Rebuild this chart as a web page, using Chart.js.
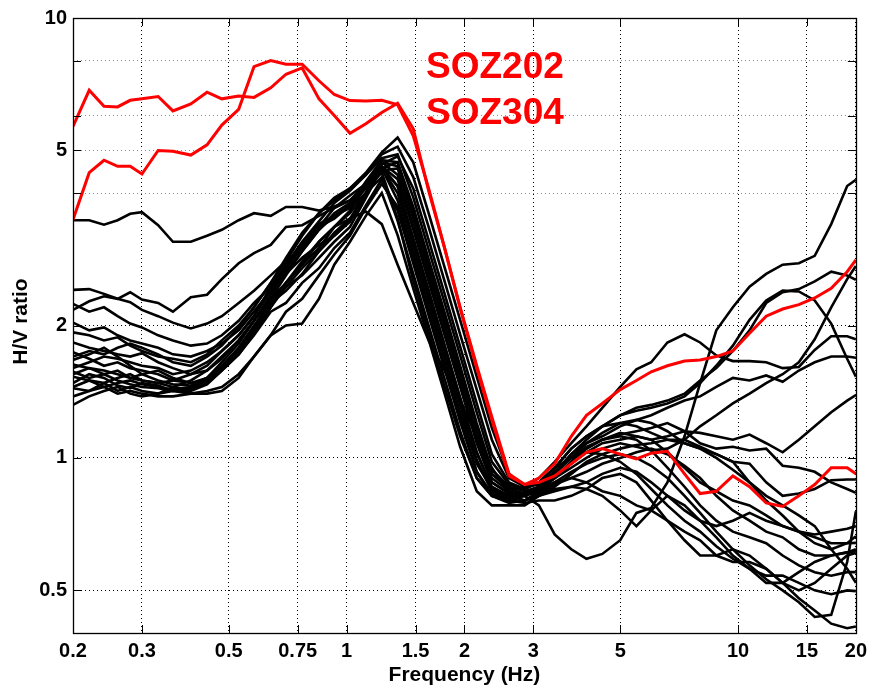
<!DOCTYPE html>
<html>
<head>
<meta charset="utf-8">
<title>H/V ratio</title>
<script src="https://cdn.jsdelivr.net/npm/chart.js@4.4.1/dist/chart.umd.min.js"></script>
<style>
  html, body { margin: 0; padding: 0; background: #fff; }
  #hv { display: block; }
</style>
</head>
<body>
<canvas id="hv" width="873" height="689"></canvas>
<script>
// frequency grid shared by every curve (Hz)
const freqHz = [
  0.2, 0.22, 0.24, 0.26, 0.28, 0.3, 0.33, 0.36, 0.4, 0.44, 0.48, 0.53, 0.58,
  0.64, 0.7, 0.77, 0.85, 0.93, 1.02,
  1.12, 1.23, 1.35, 1.48, 1.62, 1.78, 1.95, 2.15, 2.35, 2.6, 2.85,
  3.1, 3.4, 3.75, 4.1, 4.5, 5.0, 5.5, 6.0, 6.6, 7.3, 8.0, 8.8, 9.7, 10.7, 11.8, 13, 14.3, 15.7, 17.3, 19, 20
];

const xTicks = [0.2, 0.3, 0.5, 0.75, 1, 1.5, 2, 3, 5, 10, 15, 20];
const yTicks = [0.5, 1, 2, 4, 5, 6, 8, 10];
const yLabelled = [0.5, 1, 2, 5, 10];

const highlightNames = ['SOZ202', 'SOZ304'];

// highlighted stations (red)
const soz202 = [
  5.67, 6.85, 6.3, 6.28, 6.5, 6.55, 6.63, 6.15, 6.38, 6.78, 6.55, 6.65, 6.6,
  6.94, 7.45, 7.7, 6.55, 6.0, 5.47,
  5.75, 6.1, 6.4, 5.6, 4.05, 3.0, 2.19, 1.6, 1.22, 0.91, 0.87,
  0.88, 0.91, 0.97, 1.03, 1.05, 1.02, 0.995, 1.025, 1.035, 0.92, 0.83, 0.84, 0.91, 0.86, 0.79, 0.776, 0.82, 0.87, 0.95, 0.95, 0.92
];
const soz304 = [
  3.48, 4.45, 4.75, 4.6, 4.6, 4.42, 5.0, 4.98, 4.88, 5.15, 5.71, 6.2, 7.75,
  8.0, 7.85, 7.85, 7.2, 6.7, 6.49,
  6.48, 6.5, 6.35, 5.4, 4.1, 3.0, 2.2, 1.62, 1.24, 0.92, 0.87,
  0.9, 0.97, 1.12, 1.25, 1.33, 1.43, 1.5, 1.57, 1.62, 1.66, 1.67, 1.7, 1.75, 1.92, 2.1, 2.18, 2.23, 2.31, 2.43, 2.65, 2.82
];

// other stations (black)
const site01 = [
  3.47, 3.47, 3.39, 3.47, 3.59, 3.62, 3.38, 3.1, 3.1, 3.2, 3.3, 3.47, 3.6,
  3.55, 3.72, 3.72, 3.65, 3.73, 3.85,
  4.1, 4.45, 3.5, 2.53, 1.93, 1.45, 1.12, 0.9, 0.82, 0.8, 0.82,
  0.78, 0.67, 0.62, 0.59, 0.605, 0.65, 0.75, 0.77, 0.88, 1.12, 1.48, 1.95, 2.2, 2.45, 2.62, 2.75, 2.77, 2.88, 3.4, 4.15, 4.29
];
const site02 = [
  2.17, 2.27, 2.33, 2.3, 2.38, 2.29, 2.25, 2.15, 2.32, 2.35, 2.55, 2.77, 2.92,
  3.05, 3.35, 3.38, 3.55, 3.7, 3.85,
  4.2, 4.55, 3.85, 2.92, 2.23, 1.68, 1.27, 0.97, 0.85, 0.82, 0.83,
  0.86, 0.9, 0.95, 1.0, 1.05, 1.08, 1.06, 1.04, 1.05, 1.1, 1.18, 1.25, 1.33, 1.4, 1.48, 1.55, 1.65, 1.86, 2.2, 2.55, 2.73
];
const site03 = [
  2.41, 2.42, 2.36, 2.3, 2.26, 2.17, 2.1, 2.03, 1.97, 2.02, 2.1, 2.25, 2.4,
  2.6, 2.8, 3.0, 3.35, 3.7, 3.95,
  4.2, 4.6, 4.3, 3.31, 2.52, 1.9, 1.45, 1.08, 0.88, 0.83, 0.83,
  0.85, 0.92, 1.02, 1.1, 1.18, 1.25, 1.3, 1.32, 1.35, 1.4, 1.5, 1.6, 1.75, 1.95, 2.25, 2.38, 2.42, 2.52, 2.65, 2.6, 2.54
];
const site04 = [
  2.24, 2.15, 2.2, 2.1, 2.02, 1.98, 1.9, 1.85, 1.8, 1.82, 1.9, 2.05, 2.25,
  2.45, 2.62, 2.85, 3.05, 3.2, 3.45,
  4.0, 4.7, 4.6, 3.6, 2.74, 2.07, 1.57, 1.17, 0.92, 0.85, 0.86,
  0.9, 0.98, 1.08, 1.18, 1.3, 1.45, 1.59, 1.65, 1.83, 1.91, 1.83, 1.71, 1.66, 1.66, 1.65, 1.6, 1.61, 1.76, 1.89, 1.89, 1.86
];
const site05 = [
  2.03, 1.95, 1.98, 1.9, 1.85, 1.82, 1.78, 1.72, 1.7, 1.75, 1.82, 1.95, 2.15,
  2.4, 2.7, 3.05, 3.4, 3.55, 3.75,
  4.1, 4.6, 4.15, 3.15, 2.4, 1.8, 1.37, 1.03, 0.86, 0.82, 0.82,
  0.86, 0.93, 1.02, 1.08, 1.12, 1.18, 1.22, 1.25, 1.3, 1.35, 1.38, 1.45, 1.52, 1.5, 1.54, 1.49, 1.58, 1.65, 1.7, 1.7, 1.69
];
const site06 = [
  1.93, 1.9, 1.85, 1.88, 1.8, 1.75, 1.7, 1.68, 1.65, 1.72, 1.85, 2.0, 2.2,
  2.5, 2.8, 3.2, 3.6, 3.9, 4.1,
  4.4, 4.8, 4.9, 3.91, 2.98, 2.25, 1.71, 1.27, 0.98, 0.87, 0.85,
  0.88, 0.95, 1.05, 1.12, 1.18, 1.25, 1.28, 1.3, 1.33, 1.38, 1.48, 1.62, 1.8, 2.06, 2.28, 2.4, 2.39, 2.28, 2.02, 1.68, 1.53
];
const site07 = [
  1.83, 1.78, 1.75, 1.72, 1.7, 1.73, 1.65, 1.6, 1.55, 1.58, 1.68, 1.85, 2.05,
  2.3, 2.45, 2.6, 2.85, 3.1, 3.35,
  3.9, 4.55, 4.0, 3.03, 2.31, 1.74, 1.32, 0.99, 0.84, 0.81, 0.82,
  0.85, 0.92, 1.0, 1.06, 1.1, 1.14, 1.12, 1.1, 1.12, 1.15, 1.14, 1.12, 1.1, 1.13, 1.08, 1.03, 1.1, 1.18, 1.27, 1.35, 1.39
];
const site08 = [
  1.74, 1.68, 1.62, 1.65, 1.6, 1.58, 1.55, 1.5, 1.48, 1.52, 1.62, 1.78, 1.98,
  2.3, 2.6, 2.95, 3.3, 3.55, 3.7,
  4.0, 4.35, 3.46, 2.62, 2.0, 1.51, 1.15, 0.9, 0.82, 0.79, 0.8,
  0.84, 0.9, 0.98, 1.05, 1.1, 1.13, 1.15, 1.17, 1.2, 1.15, 1.08, 1.05, 1.06, 1.04, 1.05, 0.96, 0.95, 0.93, 0.88, 0.85, 0.833
];
const site09 = [
  1.67, 1.72, 1.78, 1.7, 1.62, 1.55, 1.5, 1.47, 1.46, 1.52, 1.6, 1.72, 1.9,
  2.15, 2.25, 2.5, 2.7, 3.0, 3.25,
  3.75, 4.3, 3.65, 2.77, 2.11, 1.59, 1.21, 0.93, 0.83, 0.8, 0.8,
  0.82, 0.86, 0.92, 0.98, 1.02, 1.05, 1.07, 1.08, 1.1, 1.1, 1.06, 1.02, 0.98, 0.97, 0.88, 0.82, 0.83, 0.85, 0.89, 0.893, 0.893
];
const site10 = [
  1.63, 1.6, 1.55, 1.58, 1.52, 1.5, 1.48, 1.45, 1.43, 1.48, 1.58, 1.72, 1.92,
  2.2, 2.5, 2.75, 3.1, 3.35, 3.6,
  4.0, 4.5, 4.55, 3.5, 2.65, 2.0, 1.52, 1.13, 0.9, 0.84, 0.82,
  0.84, 0.88, 0.93, 0.97, 1.0, 1.02, 1.0, 0.96, 0.9, 0.82, 0.75, 0.68, 0.62, 0.57, 0.53, 0.5, 0.47, 0.435, 0.44, 0.58, 0.757
];
const site11 = [
  1.57, 1.52, 1.55, 1.5, 1.47, 1.45, 1.44, 1.42, 1.44, 1.5, 1.6, 1.75, 1.95,
  2.25, 2.4, 2.62, 2.95, 3.25, 3.5,
  4.0, 4.55, 4.7, 3.72, 2.83, 2.14, 1.62, 1.2, 0.94, 0.86, 0.84,
  0.86, 0.9, 0.97, 1.03, 1.08, 1.1, 1.12, 1.1, 1.03, 0.95, 0.88, 0.84, 0.8, 0.78, 0.74, 0.7, 0.68, 0.64, 0.62, 0.64, 0.664
];
const site12 = [
  1.53, 1.5, 1.45, 1.48, 1.5, 1.47, 1.45, 1.43, 1.45, 1.52, 1.65, 1.82, 2.05,
  2.35, 2.65, 2.95, 3.3, 3.6, 3.8,
  4.2, 4.7, 4.4, 3.37, 2.56, 1.93, 1.47, 1.1, 0.88, 0.83, 0.82,
  0.85, 0.88, 0.9, 0.93, 0.97, 1.0, 1.03, 1.05, 1.02, 0.96, 0.9, 0.82, 0.76, 0.72, 0.68, 0.66, 0.62, 0.6, 0.6, 0.61, 0.614
];
const site13 = [
  1.48, 1.55, 1.52, 1.46, 1.44, 1.48, 1.46, 1.42, 1.42, 1.47, 1.58, 1.72, 1.92,
  2.2, 2.45, 2.7, 2.95, 3.2, 3.45,
  3.95, 4.65, 4.85, 4.1, 3.13, 2.36, 1.79, 1.33, 1.02, 0.88, 0.85,
  0.88, 0.95, 1.0, 1.03, 1.02, 0.98, 0.92, 0.85, 0.78, 0.72, 0.68, 0.63, 0.59, 0.56, 0.54, 0.54, 0.52, 0.5, 0.49, 0.5, 0.498
];
const site14 = [
  1.44, 1.42, 1.45, 1.4, 1.42, 1.4, 1.38, 1.38, 1.4, 1.42, 1.45, 1.55, 1.7,
  1.9, 2.15, 2.3, 2.6, 2.9, 3.2,
  3.7, 4.2, 3.72, 2.82, 2.15, 1.62, 1.23, 0.93, 0.82, 0.8, 0.8,
  0.83, 0.87, 0.9, 0.88, 0.84, 0.82, 0.78, 0.76, 0.72, 0.68, 0.65, 0.6, 0.58, 0.58, 0.56, 0.52, 0.48, 0.45, 0.42, 0.41, 0.414
];
const site15 = [
  1.38, 1.42, 1.48, 1.52, 1.55, 1.5, 1.48, 1.5, 1.55, 1.62, 1.75, 1.9, 2.1,
  2.4, 2.7, 3.0, 3.35, 3.5, 3.75,
  4.25, 4.75, 4.7, 3.6, 2.74, 2.07, 1.57, 1.17, 0.92, 0.85, 0.83,
  0.85, 0.9, 0.98, 1.05, 1.1, 1.12, 1.1, 1.04, 0.95, 0.86, 0.78, 0.72, 0.68, 0.66, 0.64, 0.6, 0.57, 0.55, 0.54, 0.55, 0.55
];
const site16 = [
  1.32, 1.38, 1.42, 1.45, 1.4, 1.38, 1.4, 1.42, 1.4, 1.4, 1.42, 1.52, 1.7,
  1.9, 2.0, 2.02, 2.3, 2.75, 3.1,
  3.55, 4.0, 3.21, 2.43, 1.86, 1.4, 1.06, 0.84, 0.78, 0.78, 0.78,
  0.82, 0.85, 0.86, 0.85, 0.82, 0.76, 0.7, 0.76, 0.82, 0.78, 0.72, 0.66, 0.6, 0.56, 0.52, 0.52, 0.55, 0.58, 0.6, 0.61, 0.62
];
const site17 = [
  1.55, 1.6, 1.58, 1.55, 1.52, 1.55, 1.58, 1.52, 1.48, 1.5, 1.6, 1.78, 2.0,
  2.25, 2.5, 2.75, 3.0, 3.35, 3.5,
  3.63, 3.4, 2.75, 2.25, 1.85, 1.58, 1.35, 1.12, 0.95, 0.83, 0.8,
  0.82, 0.84, 0.86, 0.88, 0.92, 0.95, 0.93, 0.88, 0.82, 0.76, 0.72, 0.7, 0.72, 0.75, 0.72, 0.7, 0.68, 0.67, 0.68, 0.69, 0.7
];
const site18 = [
  1.6, 1.65, 1.7, 1.68, 1.65, 1.62, 1.6, 1.55, 1.58, 1.65, 1.75, 1.9, 2.1,
  2.45, 2.75, 3.1, 3.45, 3.8, 4.05,
  4.4, 4.9, 5.1, 4.35, 3.35, 2.52, 1.91, 1.43, 1.1, 0.9, 0.86,
  0.87, 0.93, 1.0, 1.08, 1.14, 1.2, 1.18, 1.14, 1.1, 1.08, 1.05, 1.02, 0.98, 0.88, 0.8, 0.74, 0.68, 0.66, 0.64, 0.64, 0.641
];
const site19 = [
  1.7, 1.75, 1.72, 1.78, 1.82, 1.78, 1.72, 1.65, 1.62, 1.7, 1.8, 1.98, 2.2,
  2.5, 2.85, 3.25, 3.6, 3.85, 4.1,
  4.45, 4.95, 5.35, 4.7, 3.6, 2.71, 2.06, 1.53, 1.17, 0.92, 0.86,
  0.88, 0.95, 1.05, 1.12, 1.18, 1.2, 1.22, 1.2, 1.15, 1.08, 1.05, 1.0, 0.94, 0.88, 0.82, 0.78, 0.74, 0.7, 0.62, 0.56, 0.52
];
const site20 = [
  1.45, 1.5, 1.48, 1.42, 1.45, 1.42, 1.4, 1.45, 1.5, 1.58, 1.7, 1.85, 2.05,
  2.3, 2.5, 2.8, 3.1, 3.35, 3.65,
  4.15, 4.55, 4.15, 3.15, 2.4, 1.8, 1.37, 1.03, 0.85, 0.8, 0.79,
  0.8, 0.8, 0.82, 0.85, 0.9, 0.92, 0.88, 0.8, 0.72, 0.65, 0.6, 0.6, 0.62, 0.6, 0.56, 0.52, 0.5, 0.52, 0.56, 0.6, 0.608
];

const highlightCurves = [soz202, soz304];
const otherCurves = [site01, site02, site03, site04, site05, site06, site07, site08, site09, site10,
                     site11, site12, site13, site14, site15, site16, site17, site18, site19, site20];

const FONT = "'Liberation Sans', Arial, Helvetica, sans-serif";

function toPoints(vals) {
  return vals.map((v, i) => ({ x: freqHz[i], y: v }));
}

const datasets = [];
highlightCurves.forEach((vals, i) => {
  datasets.push({
    label: highlightNames[i],
    data: toPoints(vals),
    borderColor: '#ff0000',
    borderWidth: 3,
    pointRadius: 0,
    tension: 0,
    fill: false
  });
});
otherCurves.forEach((vals, i) => {
  datasets.push({
    label: 'site' + (i + 1),
    data: toPoints(vals),
    borderColor: '#000000',
    borderWidth: 2.6,
    pointRadius: 0,
    tension: 0,
    fill: false
  });
});

// frame, inward ticks, axis titles and station names
const decorations = {
  id: 'decorations',
  afterDraw(chart) {
    const ctx = chart.ctx;
    const a = chart.chartArea;
    const xs = chart.scales.x;
    const ys = chart.scales.y;
    ctx.save();
    ctx.strokeStyle = '#000';
    ctx.lineWidth = 1;
    ctx.setLineDash([]);
    ctx.beginPath();
    xTicks.forEach((v) => {
      const px = Math.round(xs.getPixelForValue(v)) + 0.5;
      ctx.moveTo(px, a.bottom); ctx.lineTo(px, a.bottom - 8);
      ctx.moveTo(px, a.top); ctx.lineTo(px, a.top + 8);
    });
    yTicks.forEach((v) => {
      const py = Math.round(ys.getPixelForValue(v)) + 0.5;
      ctx.moveTo(a.left, py); ctx.lineTo(a.left + 8, py);
      ctx.moveTo(a.right, py); ctx.lineTo(a.right - 8, py);
    });
    ctx.stroke();
    ctx.lineWidth = 1.3;
    ctx.strokeRect(Math.round(a.left) + 0.5, Math.round(a.top) + 0.5,
                   Math.round(a.right - a.left), Math.round(a.bottom - a.top));

    ctx.fillStyle = '#000';
    ctx.font = 'bold 21px ' + FONT;
    ctx.textAlign = 'center';
    ctx.textBaseline = 'middle';
    ctx.fillText('Frequency (Hz)', (a.left + a.right) / 2, 675);
    ctx.translate(21, (a.top + a.bottom) / 2 - 4);
    ctx.rotate(-Math.PI / 2);
    ctx.fillText('H/V ratio', 0, 0);
    ctx.restore();

    ctx.save();
    ctx.fillStyle = '#ff0000';
    ctx.font = 'bold 37px ' + FONT;
    ctx.textAlign = 'left';
    ctx.textBaseline = 'alphabetic';
    ctx.fillText(highlightNames[0], 426, 78);
    ctx.fillText(highlightNames[1], 426, 124);
    ctx.restore();
  }
};

new Chart(document.getElementById('hv'), {
  type: 'line',
  data: { datasets },
  options: {
    responsive: false,
    animation: false,
    events: [],
    layout: { padding: { left: 0, right: 13, top: 18, bottom: 0 } },
    plugins: { legend: { display: false }, tooltip: { enabled: false } },
    scales: {
      x: {
        type: 'logarithmic',
        min: 0.2,
        max: 20,
        afterBuildTicks: (scale) => { scale.ticks = xTicks.map((v) => ({ value: v })); },
        afterFit: (scale) => { scale.height = 56; },
        ticks: {
          autoSkip: false,
          maxRotation: 0,
          padding: 6,
          color: '#000',
          font: { family: FONT, size: 20, weight: 'bold' },
          callback: (v) => String(v)
        },
        grid: { color: '#000', lineWidth: 1, drawTicks: false },
        border: { display: false, dash: [1, 3] }
      },
      y: {
        type: 'logarithmic',
        min: 0.4,
        max: 10,
        afterBuildTicks: (scale) => { scale.ticks = yTicks.map((v) => ({ value: v })); },
        afterFit: (scale) => { scale.width = 73; },
        ticks: {
          autoSkip: false,
          padding: 6,
          color: '#000',
          font: { family: FONT, size: 20, weight: 'bold' },
          callback: (v) => (yLabelled.includes(v) ? String(v) : '')
        },
        grid: {
          lineWidth: 1,
          drawTicks: false,
          color: (c) => (c.tick && c.tick.value > 2 ? '#8c8c8c' : '#000')
        },
        border: { display: false, dash: [1, 3] }
      }
    }
  },
  plugins: [decorations]
});
</script>
</body>
</html>
